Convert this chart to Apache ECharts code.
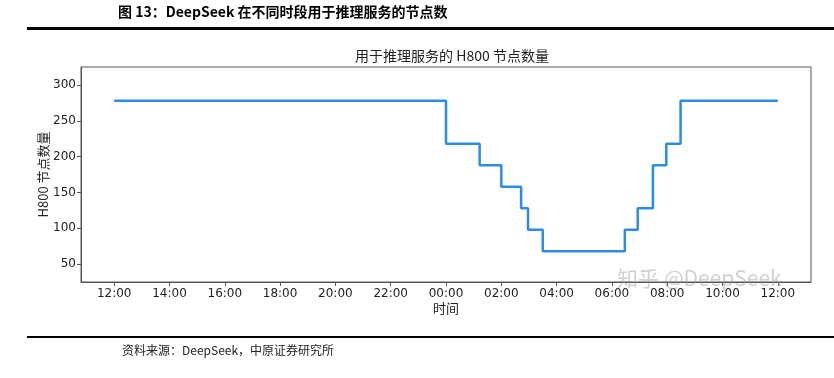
<!DOCTYPE html>
<html>
<head>
<meta charset="utf-8">
<script src="https://cdn.jsdelivr.net/npm/echarts@6/dist/echarts.min.js"></script>
<style>
	html, body { margin: 0; padding: 0; background: #fff; }
	#chart { width: 834px; height: 378px; }
</style>
</head>
<body>
<div id="chart"></div>
<script>
	// 节点数变化的时间点（从当天 12:00 到次日 12:00）
	var changeTimes = ['12:00', '00:00', '01:13', '02:00', '02:43', '02:58', '03:30', '06:28', '06:56', '07:29', '07:58', '08:29', '12:00'];
	var nodeCounts = [278, 218, 188, 158, 128, 98, 68, 98, 128, 188, 218, 278, 278];
	var xTickLabels = ['12:00', '14:00', '16:00', '18:00', '20:00', '22:00', '00:00', '02:00', '04:00', '06:00', '08:00', '10:00', '12:00'];
	var yTickValues = [50, 100, 150, 200, 250, 300];

	var cjk = '"Noto Sans CJK SC", sans-serif';
	var tickFont = '"DejaVu Sans", sans-serif';

	// 把 "HH:MM" 换成自 12:00 起的小时数，跨日时加 24
	function toHours(list) {
		var out = [];
		var prev = -1;
		for (var i = 0; i < list.length; i++) {
			var p = list[i].split(':');
			var h = (parseInt(p[0], 10) - 12 + 24) % 24 + parseInt(p[1], 10) / 60;
			while (h <= prev) h += 24;
			out.push(h);
			prev = h;
		}
		return out;
	}

	var hours = toHours(changeTimes);
	var seriesData = [];
	for (var i = 0; i < hours.length; i++) {
		seriesData.push([hours[i], nodeCounts[i]]);
	}
	var xTickValues = [];
	for (var k = 0; k < xTickLabels.length; k++) {
		xTickValues.push(k * 2);
	}

	var myChart = echarts.init(document.getElementById('chart'), null, { renderer: 'canvas' });
	var option = {
		animation: false,
		backgroundColor: '#fff',
		grid: {
			left: 81,
			right: 23,
			top: 67,
			bottom: 96
		},
		title: {
			text: '用于推理服务的 H800 节点数量',
			left: 447,
			textAlign: 'center',
			top: 44,
			textStyle: {
				fontFamily: cjk,
				fontWeight: 'normal',
				fontSize: 14,
				color: '#222'
			}
		},
		xAxis: {
			type: 'value',
			min: -1.2,
			max: 25.2,
			name: '时间',
			nameLocation: 'middle',
			nameGap: 20,
			nameMoveOverlap: false,
			nameTextStyle: { fontFamily: cjk, fontSize: 13, color: '#222' },
			splitLine: { show: false },
			axisLine: { show: true, onZero: false, lineStyle: { color: '#555', width: 1 } },
			axisTick: { show: true, length: 4, customValues: xTickValues, lineStyle: { color: '#555' } },
			axisLabel: {
				customValues: xTickValues,
				fontFamily: tickFont,
				fontSize: 12,
				color: '#222',
				margin: 6,
				formatter: function (v) {
					return xTickLabels[Math.round(v / 2)];
				}
			}
		},
		yAxis: {
			type: 'value',
			min: 25,
			max: 325,
			name: 'H800 节点数量',
			nameLocation: 'middle',
			nameGap: 31,
			nameMoveOverlap: false,
			nameTextStyle: { fontFamily: cjk, fontSize: 13, color: '#222' },
			splitLine: { show: false },
			axisLine: { show: true, onZero: false, lineStyle: { color: '#555', width: 1 } },
			axisTick: { show: true, length: 4, customValues: yTickValues, lineStyle: { color: '#555' } },
			axisLabel: {
				customValues: yTickValues,
				fontFamily: tickFont,
				fontSize: 12,
				color: '#222',
				margin: 5
			}
		},
		series: [{
			type: 'line',
			step: 'end',
			data: seriesData,
			showSymbol: false,
			lineStyle: { color: '#2c8ce3', width: 2.5 },
			z: 3
		}],
		graphic: [
			// 补齐绘图区的上、右边框
			{
				type: 'rect',
				shape: { x: 81, y: 67, width: 730, height: 215 },
				style: { fill: 'none', stroke: '#555', lineWidth: 1 },
				silent: true,
				z: 1
			},
			{
				type: 'text',
				left: 118,
				top: 5,
				style: {
					text: '图 13：DeepSeek 在不同时段用于推理服务的节点数',
					font: 'bold 14px "Noto Sans CJK SC", sans-serif',
					fill: '#000'
				}
			},
			{
				type: 'rect',
				shape: { x: 27, y: 27, width: 807, height: 3 },
				style: { fill: '#000' },
				silent: true
			},
			{
				type: 'rect',
				shape: { x: 27, y: 336, width: 807, height: 2 },
				style: { fill: '#000' },
				silent: true
			},
			{
				type: 'text',
				left: 122,
				top: 344,
				style: {
					text: '资料来源：DeepSeek，中原证券研究所',
					font: '12px "Noto Sans CJK SC", sans-serif',
					fill: '#222'
				}
			},
			{
				type: 'text',
				left: 617,
				top: 268,
				z: 10,
				style: {
					text: '知乎 @DeepSeek',
					font: '21px "Noto Sans CJK SC", sans-serif',
					fill: 'rgba(150,150,150,0.45)'
				}
			}
		]
	};
	myChart.setOption(option);
</script>
</body>
</html>
